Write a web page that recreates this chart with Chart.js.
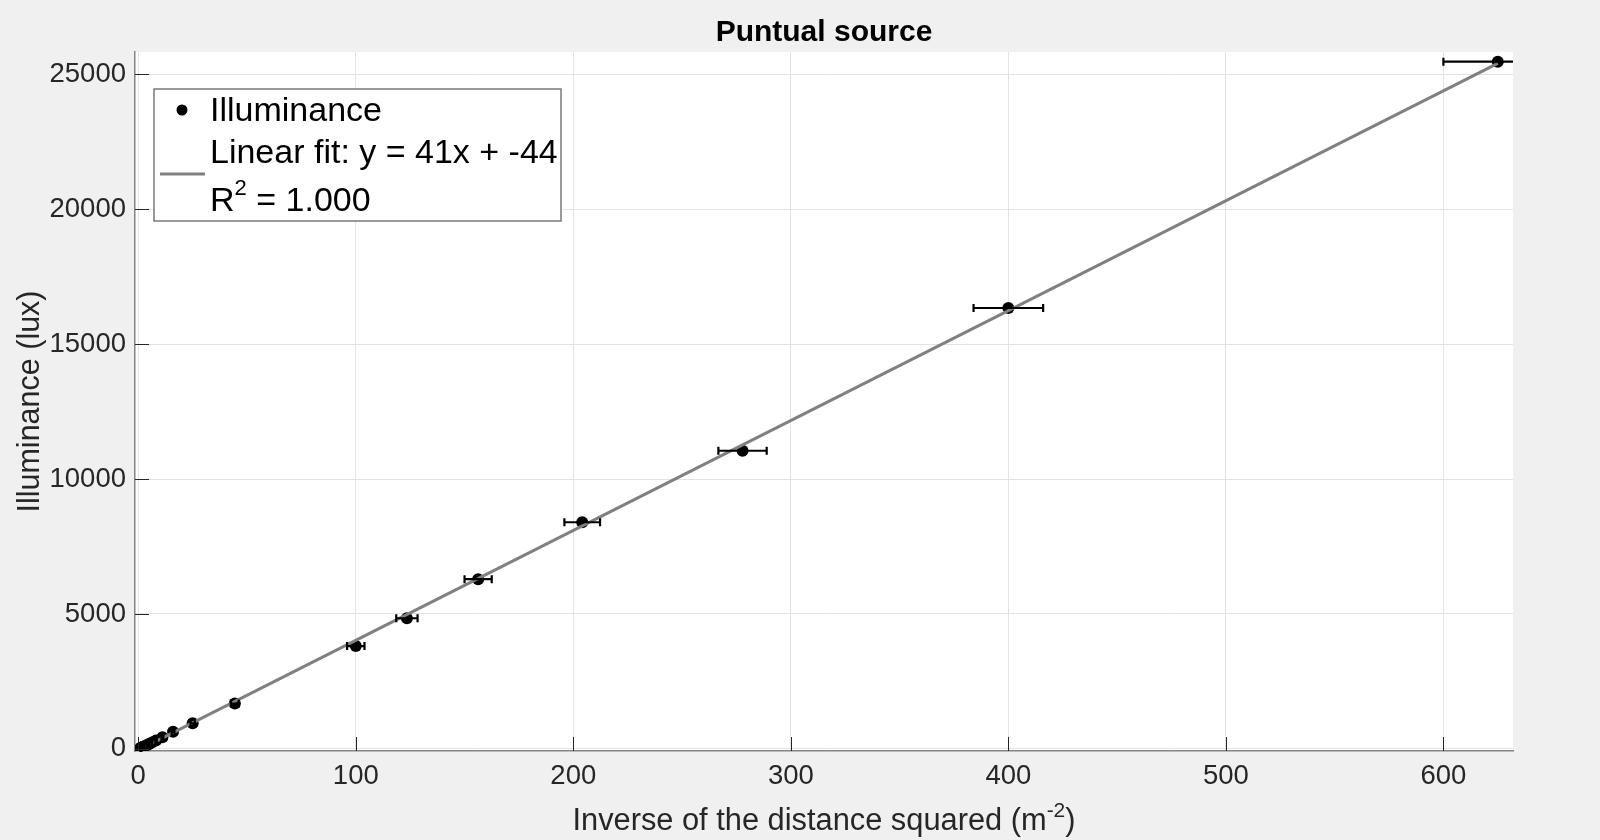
<!DOCTYPE html>
<html>
<head>
<meta charset="utf-8">
<title>Puntual source</title>
<script src="https://cdn.jsdelivr.net/npm/chart.js@4.4.1/dist/chart.umd.min.js"></script>
<style>
  html, body { margin: 0; padding: 0; background: #f0f0f0; }
  #grafico { display: block; }
</style>
</head>
<body>
<canvas id="grafico" width="1600" height="840"></canvas>
<script>
// Datos (1/d^2 en m^-2, iluminancia en lux)
const inversoDist2 = [625, 400, 277.8, 204.1, 156.25, 123.5, 100, 44.4, 25, 16, 11.1, 8.16, 6.25, 4.94, 4, 2.78, 2.04, 1.56, 1.23, 1];
const iluminancia = [25470, 16340, 11050, 8400, 6290, 4840, 3810, 1680, 945, 630, 430, 310, 235, 180, 140, 95, 65, 48, 37, 28];
const errorX = [25, 16, 11.1, 8.2, 6.25, 4.9, 4, 1.8, 1, 0.64, 0.44, 0.33, 0.25, 0.2, 0.16, 0.11, 0.08, 0.06, 0.05, 0.04];

const ticksX = [0, 100, 200, 300, 400, 500, 600];
const ticksY = [0, 5000, 10000, 15000, 20000, 25000];
const limitesX = [-1.5, 632];
const limitesY = [-80, 25830];

const titulo = 'Puntual source';
const etiquetaY = 'Illuminance (lux)';
const textoAjuste = 'Linear fit: y = 41x + -44';
const textoR2 = ' = 1.000';

const FUENTE = '"Liberation Sans", Arial, Helvetica, sans-serif';

// Ajuste lineal por minimos cuadrados de los puntos
function ajusteLineal(xs, ys) {
    const n = xs.length;
    let sx = 0, sy = 0, sxx = 0, sxy = 0;
    for (let i = 0; i < n; i++) {
        sx += xs[i]; sy += ys[i];
        sxx += xs[i] * xs[i]; sxy += xs[i] * ys[i];
    }
    const m = (n * sxy - sx * sy) / (n * sxx - sx * sx);
    const b = (sy - m * sx) / n;
    return { m, b };
}
const ajuste = ajusteLineal(inversoDist2, iluminancia);
const xMin = Math.min(...inversoDist2);
const xMax = Math.max(...inversoDist2);

const puntos = inversoDist2.map((x, i) => ({ x: x, y: iluminancia[i] }));
const lineaAjuste = [
    { x: xMin, y: ajuste.m * xMin + ajuste.b },
    { x: xMax, y: ajuste.m * xMax + ajuste.b }
];

const decoracion = {
    id: 'decoracion',
    beforeDraw(chart) {
        const { ctx, chartArea: a } = chart;
        ctx.save();
        ctx.fillStyle = '#ffffff';
        ctx.fillRect(a.left, a.top, a.right - a.left, a.bottom - a.top);
        ctx.restore();
    },
    afterDatasetsDraw(chart) {
        // barras de error horizontales
        const { ctx, chartArea: a, scales } = chart;
        ctx.save();
        ctx.beginPath();
        ctx.rect(a.left, a.top - 10, a.right - a.left, a.bottom - a.top + 20);
        ctx.clip();
        ctx.strokeStyle = '#000000';
        ctx.lineWidth = 2.2;
        inversoDist2.forEach((x, i) => {
            const x1 = scales.x.getPixelForValue(x - errorX[i]);
            const x2 = scales.x.getPixelForValue(x + errorX[i]);
            const py = scales.y.getPixelForValue(iluminancia[i]);
            ctx.beginPath();
            ctx.moveTo(x1, py); ctx.lineTo(x2, py);
            ctx.moveTo(x1, py - 4); ctx.lineTo(x1, py + 4);
            ctx.moveTo(x2, py - 4); ctx.lineTo(x2, py + 4);
            ctx.stroke();
        });
        ctx.restore();
    },
    afterDraw(chart) {
        const { ctx, chartArea: a, scales } = chart;
        ctx.save();

        // marcas hacia dentro
        ctx.strokeStyle = '#262626';
        ctx.lineWidth = 1;
        ctx.beginPath();
        ticksX.forEach(v => {
            const px = Math.round(scales.x.getPixelForValue(v)) + 0.5;
            ctx.moveTo(px, a.bottom); ctx.lineTo(px, a.bottom - 14);
        });
        ticksY.forEach(v => {
            const py = Math.round(scales.y.getPixelForValue(v)) + 0.5;
            ctx.moveTo(a.left, py); ctx.lineTo(a.left + 14, py);
        });
        ctx.stroke();

        // titulo
        ctx.fillStyle = '#000000';
        ctx.textAlign = 'center';
        ctx.textBaseline = 'alphabetic';
        ctx.font = 'bold 30px ' + FUENTE;
        ctx.fillText(titulo, (a.left + a.right) / 2, 41);

        // etiqueta eje y
        ctx.fillStyle = '#262626';
        ctx.font = '30.5px ' + FUENTE;
        ctx.save();
        ctx.translate(39, (a.top + a.bottom) / 2);
        ctx.rotate(-Math.PI / 2);
        ctx.fillText(etiquetaY, 0, 0);
        ctx.restore();

        // etiqueta eje x con superindice
        const base = 'Inverse of the distance squared (m';
        const sup = '-2';
        const cierre = ')';
        ctx.textAlign = 'left';
        ctx.font = '30.8px ' + FUENTE;
        const wBase = ctx.measureText(base).width;
        const wCierre = ctx.measureText(cierre).width;
        ctx.font = '21px ' + FUENTE;
        const wSup = ctx.measureText(sup).width;
        const total = wBase + wSup + wCierre;
        let x0 = (a.left + a.right) / 2 - total / 2;
        const yBase = 830;
        ctx.font = '30.8px ' + FUENTE;
        ctx.fillText(base, x0, yBase);
        ctx.font = '21px ' + FUENTE;
        ctx.fillText(sup, x0 + wBase, yBase - 13);
        ctx.font = '30.8px ' + FUENTE;
        ctx.fillText(cierre, x0 + wBase + wSup, yBase);

        // leyenda
        ctx.fillStyle = '#ffffff';
        ctx.fillRect(154, 89, 407, 132);
        ctx.strokeStyle = '#7a7a7a';
        ctx.lineWidth = 1.5;
        ctx.strokeRect(154, 89, 407, 132);

        ctx.fillStyle = '#000000';
        ctx.beginPath();
        ctx.arc(182, 110, 5.5, 0, Math.PI * 2);
        ctx.fill();

        ctx.strokeStyle = '#808080';
        ctx.lineWidth = 3;
        ctx.beginPath();
        ctx.moveTo(160, 174); ctx.lineTo(205, 174);
        ctx.stroke();

        ctx.fillStyle = '#000000';
        ctx.font = '34px ' + FUENTE;
        ctx.fillText('Illuminance', 210, 121);
        ctx.fillText(textoAjuste, 210, 163);
        ctx.fillText('R', 210, 211);
        const wR = ctx.measureText('R').width;
        ctx.font = '22px ' + FUENTE;
        ctx.fillText('2', 210 + wR, 195);
        const w2 = ctx.measureText('2').width;
        ctx.font = '34px ' + FUENTE;
        ctx.fillText(textoR2, 210 + wR + w2, 211);

        ctx.restore();
    }
};

const ctx = document.getElementById('grafico').getContext('2d');
const grafico = new Chart(ctx, {
    type: 'scatter',
    data: {
        datasets: [
            {
                type: 'line',
                label: 'Linear fit',
                data: lineaAjuste,
                borderColor: '#808080',
                borderWidth: 3,
                pointRadius: 0,
                fill: false,
                order: 0
            },
            {
                label: 'Illuminance',
                data: puntos,
                backgroundColor: '#000000',
                borderWidth: 0,
                pointRadius: 6,
                order: 1
            }
        ]
    },
    options: {
        responsive: false,
        animation: false,
        devicePixelRatio: 1,
        events: [],
        layout: { padding: { top: 52, right: 87, left: 0, bottom: 0 } },
        plugins: {
            legend: { display: false },
            tooltip: { enabled: false },
            title: { display: false }
        },
        scales: {
            x: {
                type: 'linear',
                min: limitesX[0],
                max: limitesX[1],
                afterFit: scale => { scale.height = 89; },
                afterBuildTicks: scale => { scale.ticks = ticksX.map(v => ({ value: v })); },
                grid: { color: '#e3e3e3', lineWidth: 1, drawTicks: false },
                border: { display: true, color: '#858585', width: 1.5 },
                ticks: {
                    padding: 9,
                    color: '#262626',
                    maxRotation: 0,
                    callback: v => String(v),
                    font: { family: FUENTE, size: 27.5 }
                }
            },
            y: {
                type: 'linear',
                min: limitesY[0],
                max: limitesY[1],
                afterFit: scale => { scale.width = 135; },
                afterBuildTicks: scale => { scale.ticks = ticksY.map(v => ({ value: v })); },
                grid: { color: '#e3e3e3', lineWidth: 1, drawTicks: false },
                border: { display: true, color: '#858585', width: 1.5 },
                ticks: {
                    padding: 9,
                    color: '#262626',
                    callback: v => String(v),
                    font: { family: FUENTE, size: 27.5 }
                }
            }
        }
    },
    plugins: [decoracion]
});
</script>
</body>
</html>
